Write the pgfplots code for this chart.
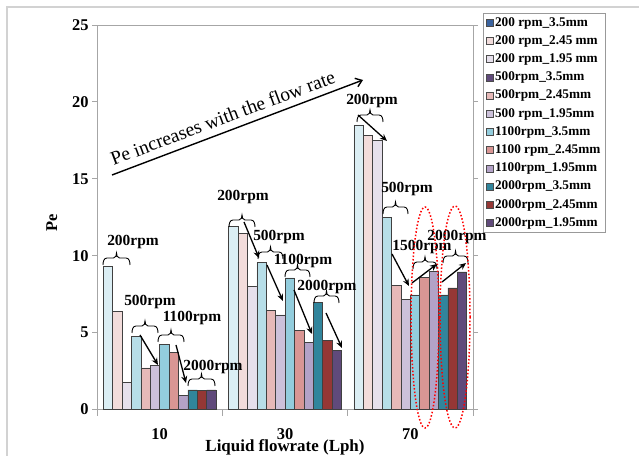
\documentclass[border=0pt]{standalone}
\usepackage{pgfplots}
\pgfplotsset{compat=1.18}
\usepackage{pgfplotstable}
\usepackage{fontspec}
\setmainfont{Liberation Serif}
\usetikzlibrary{arrows.meta}

\definecolor{bA}{HTML}{DBEEF4}
\definecolor{bB}{HTML}{F2DCDB}
\definecolor{bC}{HTML}{E6E0EC}
\definecolor{bD}{HTML}{B7DEE8}
\definecolor{bE}{HTML}{E6B9B8}
\definecolor{bF}{HTML}{CCC1DA}
\definecolor{bG}{HTML}{93CDDD}
\definecolor{bH}{HTML}{D99694}
\definecolor{bI}{HTML}{B3A2C7}
\definecolor{bJ}{HTML}{31859C}
\definecolor{bK}{HTML}{953735}
\definecolor{bL}{HTML}{604A7B}
\definecolor{lA}{HTML}{3B64A0}

\pgfplotstableread{
x b1 b2 b3 b4 b5 b6 b7 b8 b9 b10 b11 b12
0 9.3 6.4 1.75 4.75 2.7 2.85 4.25 3.7 0.9 1.28 1.25 1.27
1 11.9 11.45 8.0 9.55 6.45 6.15 8.55 5.15 4.35 6.95 4.5 3.85
2 18.5 17.8 17.5 12.5 8.05 7.15 7.45 8.6 9.0 7.45 7.9 8.95
}\datatab

% bracket: x1, x2, y of the ends (pixels from the top)
\newcommand\brk[3]{%
  \pgfmathsetmacro\bxa{#1}%
  \pgfmathsetmacro\bxb{#2}%
  \pgfmathsetmacro\bxm{(#1+#2)/2}%
  \pgfmathsetmacro\byb{456-#3}%
  \pgfmathsetmacro\byf{456-#3+7}%
  \pgfmathsetmacro\byt{456-#3+12}%
  \draw[line width=0.9bp]
    (\bxa,\byb) to[out=90,in=180] (\bxa+4,\byf)
    -- (\bxm-3,\byf) to[out=0,in=-90] (\bxm,\byt)
    to[out=-90,in=180] (\bxm+3,\byf)
    -- (\bxb-4,\byf) to[out=0,in=90] (\bxb,\byb);}

\begin{document}
\begin{tikzpicture}[x=1bp,y=1bp]
\useasboundingbox (0,0) rectangle (639,456);
\draw[gray!35,line width=1.2bp] (7,0) -- (7,449) -- (639,449);
\begin{axis}[
  at={(97bp,46.5bp)}, anchor=south west, scale only axis,
  width=376bp, height=384.5bp,
  xmin=-0.5, xmax=2.5, ymin=0, ymax=25,
  ybar, bar width=9.4bp,
  ytick={0,5,...,25},
  xtick={0,1,2}, xticklabels={10,30,70},
  xtick style={draw=none},
  ytick style={draw=gray!70, line width=0.8bp},
  major tick length=5bp, tick align=outside,
  axis line style={draw=gray!70, line width=0.8bp},
  /pgf/number format/assume math mode=true,
  yticklabel style={font=\bfseries\fontsize{16.5}{18}\selectfont},
  xticklabel style={font=\bfseries\fontsize{16.5}{18}\selectfont, yshift=-11bp},
  xlabel={Liquid flowrate (Lph)},
  xlabel style={font=\bfseries\fontsize{17}{19}\selectfont, at={(axis description cs:0.5,-0.0975)}, anchor=center},
  ylabel={Pe},
  ylabel style={font=\bfseries\fontsize{16.5}{18}\selectfont, at={(axis description cs:-0.12,0.485)}, anchor=center},
  clip=false,
  legend cell align=left,
  legend image code/.code={\draw[#1] (0bp,-3.5bp) rectangle (7bp,3.5bp);},
  legend style={at={(axis description cs:1.0266,1.0312)}, anchor=north west,
    draw=gray!80, fill=white, font=\bfseries\fontsize{13.3}{15}\selectfont,
    row sep=3.2bp, inner xsep=3bp, inner ysep=2bp,
    nodes={inner xsep=1.5bp, inner ysep=1bp, text height=10bp, text depth=3bp}},
]
\addplot[fill=bA, draw=black!75, line width=0.6bp, bar shift=-51.7bp, forget plot] table[x=x,y=b1]{\datatab};
\addplot[fill=bB, draw=black!75, line width=0.6bp, bar shift=-42.3bp, forget plot] table[x=x,y=b2]{\datatab};
\addplot[fill=bC, draw=black!75, line width=0.6bp, bar shift=-32.9bp, forget plot] table[x=x,y=b3]{\datatab};
\addplot[fill=bD, draw=black!75, line width=0.6bp, bar shift=-23.5bp, forget plot] table[x=x,y=b4]{\datatab};
\addplot[fill=bE, draw=black!75, line width=0.6bp, bar shift=-14.1bp, forget plot] table[x=x,y=b5]{\datatab};
\addplot[fill=bF, draw=black!75, line width=0.6bp, bar shift=-4.7bp, forget plot] table[x=x,y=b6]{\datatab};
\addplot[fill=bG, draw=black!75, line width=0.6bp, bar shift=4.7bp, forget plot] table[x=x,y=b7]{\datatab};
\addplot[fill=bH, draw=black!75, line width=0.6bp, bar shift=14.1bp, forget plot] table[x=x,y=b8]{\datatab};
\addplot[fill=bI, draw=black!75, line width=0.6bp, bar shift=23.5bp, forget plot] table[x=x,y=b9]{\datatab};
\addplot[fill=bJ, draw=black!75, line width=0.6bp, bar shift=32.9bp, forget plot] table[x=x,y=b10]{\datatab};
\addplot[fill=bK, draw=black!75, line width=0.6bp, bar shift=42.3bp, forget plot] table[x=x,y=b11]{\datatab};
\addplot[fill=bL, draw=black!75, line width=0.6bp, bar shift=51.7bp, forget plot] table[x=x,y=b12]{\datatab};
\addlegendimage{fill=lA, draw=black!70}\addlegendentry{200 rpm\_3.5mm}
\addlegendimage{fill=bB, draw=black!70}\addlegendentry{200 rpm\_2.45 mm}
\addlegendimage{fill=bC, draw=black!70}\addlegendentry{200 rpm\_1.95 mm}
\addlegendimage{fill=bL, draw=black!70}\addlegendentry{500rpm\_3.5mm}
\addlegendimage{fill=bE, draw=black!70}\addlegendentry{500rpm\_2.45mm}
\addlegendimage{fill=bF, draw=black!70}\addlegendentry{500 rpm\_1.95mm}
\addlegendimage{fill=bG, draw=black!70}\addlegendentry{1100rpm\_3.5mm}
\addlegendimage{fill=bH, draw=black!70}\addlegendentry{1100 rpm\_2.45mm}
\addlegendimage{fill=bI, draw=black!70}\addlegendentry{1100rpm\_1.95mm}
\addlegendimage{fill=bJ, draw=black!70}\addlegendentry{2000rpm\_3.5mm}
\addlegendimage{fill=bK, draw=black!70}\addlegendentry{2000rpm\_2.45mm}
\addlegendimage{fill=bL, draw=black!70}\addlegendentry{2000rpm\_1.95mm}
\end{axis}
% category separator ticks
\foreach \xx in {97,222.3,347.7,473} \draw[gray!70, line width=0.8bp] (\xx,456-409.5) -- (\xx,456-416.5);
% main annotation
\draw[line width=1.4bp, -{Straight Barb[length=6bp,width=9bp]}] (112,456-175) -- (363,456-80);
\node[anchor=base, rotate=20.5, font=\fontsize{19.5}{22}\selectfont, inner sep=0pt] at (225,456-124) {Pe increases with the flow rate};
\tikzset{ar/.style={line width=1.3bp, -{Stealth[length=7bp,width=6bp]}},
  lb/.style={font=\bfseries\fontsize{15.5}{17}\selectfont, inner sep=0pt}}
% brackets
\brk{103}{130}{265}
\brk{132}{158}{333}
\brk{158}{184}{342}
\brk{188}{215}{386}
\brk{229}{255}{227}
\brk{258}{283}{259}
\brk{285}{310}{277}
\brk{314}{339}{303}
\brk{357}{383}{122}
\brk{383}{408}{214}
\brk{413}{437}{269}
\brk{443}{468}{263}
% labels
\node[lb] at (133,456-242) {200rpm};
\node[lb] at (150,456-302) {500rpm};
\node[lb] at (192,456-318) {1100rpm};
\node[lb] at (213,456-367) {2000rpm};
\node[lb] at (243,456-197) {200rpm};
\node[lb] at (279,456-237) {500rpm};
\node[lb] at (303,456-261) {1100rpm};
\node[lb] at (327,456-287) {2000rpm};
\node[lb] at (372,456-101) {200rpm};
\node[lb] at (407,456-189) {500rpm};
\node[lb] at (422,456-247) {1500rpm};
\node[lb] at (457,456-237) {2000rpm};
% arrows
\draw[ar] (140,456-335) -- (158,456-365);
\draw[ar] (176,456-345) -- (186,456-383);
\draw[ar] (244,456-222) -- (259,456-258);
\draw[ar] (267,456-265) -- (283,456-301);
\draw[ar] (294,456-290) -- (312,456-334);
\draw[ar] (326,456-313) -- (342,456-348);
\draw[ar] (358,456-115) -- (387,456-141);
\draw[ar] (392,456-254) -- (409,456-286);
\draw[ar] (412,456-283) -- (437,456-264);
\draw[ar] (442,456-282) -- (466,456-263);
% red dotted ellipses
\draw[red, dotted, line width=1.5bp] (425,456-317.5) ellipse [x radius=14, y radius=110.5];
\draw[red, dotted, line width=1.5bp] (455,456-317) ellipse [x radius=15, y radius=111];
\end{tikzpicture}
\end{document}
